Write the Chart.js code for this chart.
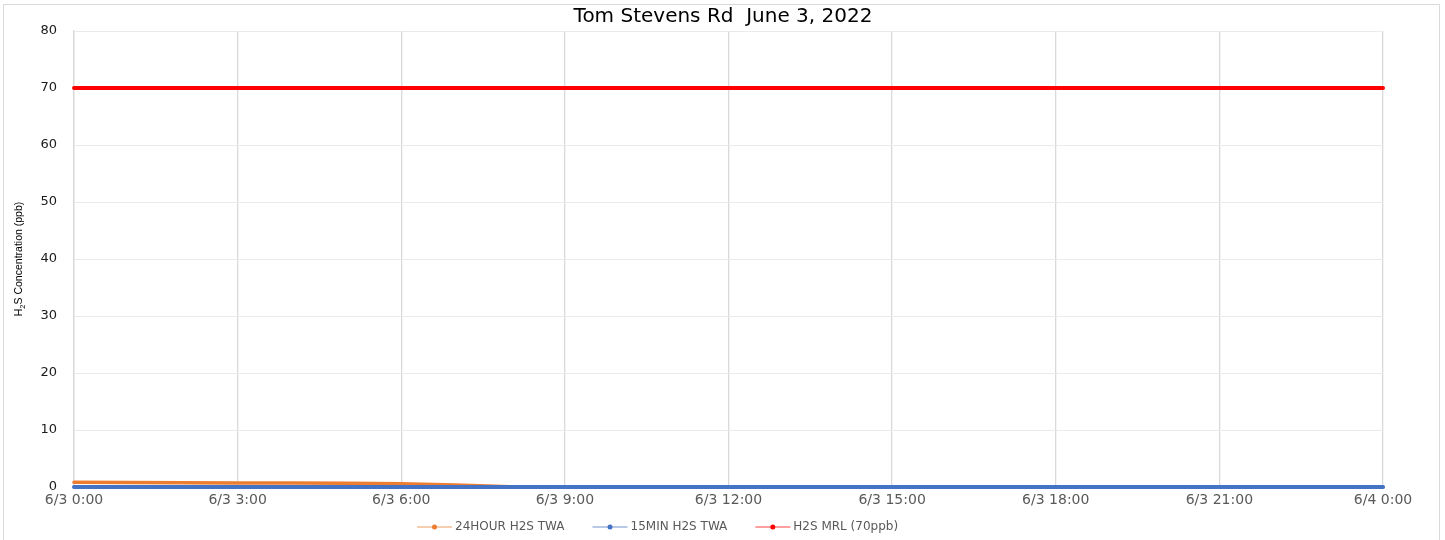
<!DOCTYPE html>
<html lang="en">
<head>
<meta charset="UTF-8">
<title>Tom Stevens Rd June 3, 2022</title>
<script src="https://cdn.jsdelivr.net/npm/chart.js@4"></script>
<style>
  html, body { margin: 0; padding: 0; background: #fff; }
  #wrap { width: 1445px; height: 540px; }
</style>
</head>
<body>
<div id="wrap"><canvas id="chart" width="1445" height="540"></canvas></div>

<script>
// hours since 6/3 0:00, one reading per hour
const hours = [0, 1, 2, 3, 4, 5, 6, 7, 8, 9, 10, 11, 12, 13, 14, 15, 16, 17, 18, 19, 20, 21, 22, 23, 24];

// series values (ppb)
const twa24h = [0.85, 0.78, 0.75, 0.72, 0.7, 0.65, 0.55, 0.35, 0.05, 0, 0, 0, 0, 0, 0, 0, 0, 0, 0, 0, 0, 0, 0, 0, 0];
const twa15m = [0, 0, 0, 0, 0, 0, 0, 0, 0, 0, 0, 0, 0, 0, 0, 0, 0, 0, 0, 0, 0, 0, 0, 0, 0];
const mrl    = [70, 70, 70, 70, 70, 70, 70, 70, 70, 70, 70, 70, 70, 70, 70, 70, 70, 70, 70, 70, 70, 70, 70, 70, 70];

const seriesNames = ['24HOUR H2S TWA', '15MIN H2S TWA', 'H2S MRL (70ppb)'];
const xTickLabels = ['6/3 0:00', '6/3 3:00', '6/3 6:00', '6/3 9:00', '6/3 12:00', '6/3 15:00', '6/3 18:00', '6/3 21:00', '6/4 0:00'];
const yTicks = [0, 10, 20, 30, 40, 50, 60, 70, 80];
const titleText = 'Tom Stevens Rd  June 3, 2022';

const toPoints = vals => vals.map((v, i) => ({ x: hours[i], y: v }));

// frame, title, y-axis title with subscript and excel-like legend
const decor = {
  id: 'decor',
  beforeDraw(chart) {
    const c = chart.ctx;
    c.save();
    c.fillStyle = '#fff';
    c.fillRect(0, 0, chart.width, chart.height);
    c.strokeStyle = '#d9d9d9';
    c.lineWidth = 1;
    c.strokeRect(3.5, 4.5, 1436, 545);
    c.restore();
  },
  afterDraw(chart) {
    const c = chart.ctx;
    const area = chart.chartArea;
    c.save();

    // title
    c.fillStyle = '#000';
    c.font = '20px "DejaVu Sans"';
    c.textAlign = 'center';
    c.textBaseline = 'middle';
    c.fillText(titleText, 723, 17);

    // y axis title: H₂S Concentration (ppb)
    c.translate(19, (area.top + area.bottom) / 2);
    c.rotate(-Math.PI / 2);
    c.textBaseline = 'middle';
    c.textAlign = 'left';
    const big = '10.5px "Liberation Sans Narrow", "Liberation Sans"';
    const small = '7.5px "Liberation Sans Narrow", "Liberation Sans"';
    c.font = big;
    const wH = c.measureText('H').width;
    const rest = 'S Concentration (ppb)';
    const wRest = c.measureText(rest).width;
    c.font = small;
    const w2 = c.measureText('2').width;
    let x = -(wH + w2 + wRest) / 2;
    c.font = big;
    c.fillText('H', x, 0);
    x += wH;
    c.font = small;
    c.fillText('2', x, 4);
    x += w2;
    c.font = big;
    c.fillText(rest, x, 0);
    c.restore();

    // legend
    c.save();
    const ly = 527;
    let lx = 417;
    c.font = '12px "DejaVu Sans"';
    c.textBaseline = 'middle';
    c.textAlign = 'left';
    chart.data.datasets.forEach(ds => {
      c.strokeStyle = ds.borderColor;
      c.globalAlpha = 0.5;
      c.lineWidth = 1.5;
      c.beginPath();
      c.moveTo(lx, ly);
      c.lineTo(lx + 35, ly);
      c.stroke();
      c.globalAlpha = 1;
      c.fillStyle = ds.borderColor;
      c.beginPath();
      c.arc(lx + 17.5, ly, 2.5, 0, Math.PI * 2);
      c.fill();
      c.fillStyle = '#595959';
      c.fillText(ds.label, lx + 38, ly);
      lx += 38 + c.measureText(ds.label).width + 28;
    });
    c.restore();
  }
};

const config = {
  type: 'line',
  data: {
    datasets: [
      {
        label: seriesNames[0],
        data: toPoints(twa24h),
        borderColor: '#ED7D31',
        borderWidth: 3.5,
        clip: false,
        order: 3
      },
      {
        label: seriesNames[1],
        data: toPoints(twa15m),
        borderColor: '#4472C4',
        borderWidth: 4,
        clip: false,
        order: 2
      },
      {
        label: seriesNames[2],
        data: toPoints(mrl),
        borderColor: '#FF0000',
        borderWidth: 4,
        clip: false,
        order: 1
      }
    ]
  },
  options: {
    responsive: false,
    animation: false,
    events: [],
    layout: { padding: { left: 0, right: 62, top: 31, bottom: 23 } },
    elements: {
      point: { radius: 0 },
      line: { tension: 0, borderCapStyle: 'round', borderJoinStyle: 'round' }
    },
    scales: {
      x: {
        type: 'linear',
        min: 0,
        max: 24,
        afterFit: s => { s.height = 30; },
        afterBuildTicks: s => { s.ticks = [0, 3, 6, 9, 12, 15, 18, 21, 24].map(v => ({ value: v })); },
        ticks: {
          autoSkip: false,
          maxRotation: 0,
          padding: 5,
          color: '#595959',
          font: { family: 'DejaVu Sans', size: 14 },
          callback: (v, i) => xTickLabels[i]
        },
        grid: { color: '#d9d9d9', lineWidth: 1.3, drawTicks: false },
        border: { display: false }
      },
      y: {
        min: 0,
        max: 80,
        afterFit: s => { s.width = 74; },
        afterBuildTicks: s => { s.ticks = yTicks.map(v => ({ value: v })); },
        ticks: {
          padding: 17,
          color: '#1a1a1a',
          font: { family: 'DejaVu Sans', size: 13 }
        },
        grid: { color: '#ebebeb', lineWidth: 1, drawTicks: false },
        border: { color: '#d9d9d9', width: 1.3 }
      }
    },
    plugins: {
      legend: { display: false },
      title: { display: false },
      tooltip: { enabled: false }
    }
  },
  plugins: [decor]
};

new Chart(document.getElementById('chart'), config);
</script>
</body>
</html>
